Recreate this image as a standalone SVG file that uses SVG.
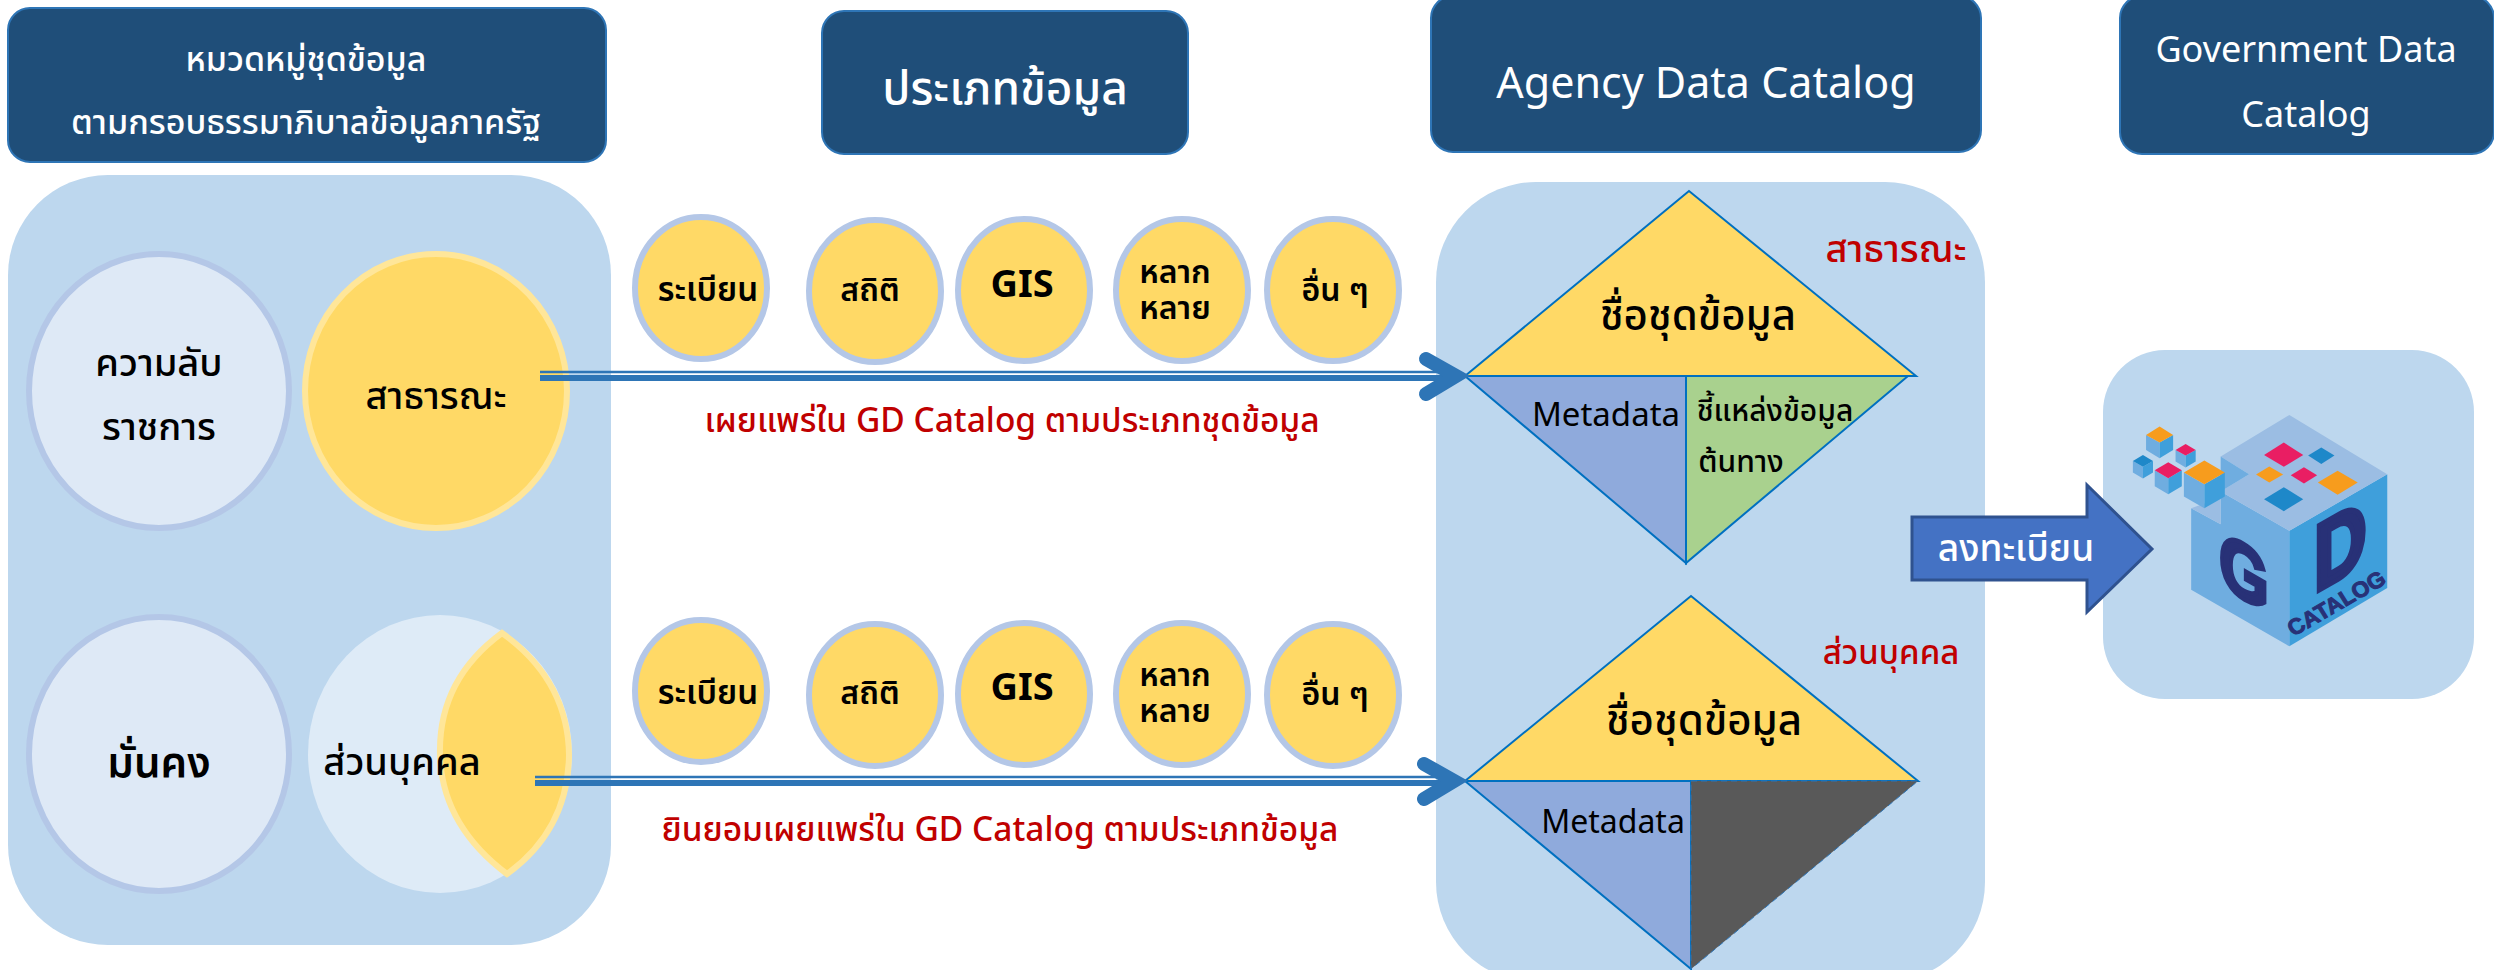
<svg xmlns="http://www.w3.org/2000/svg" width="2494" height="970" viewBox="0 0 2494 970">
<style>
text{font-family:"Noto Sans","Noto Sans Thai","DejaVu Sans","Liberation Sans",sans-serif;text-anchor:middle;fill:#000}
.w{fill:#fff}.r{fill:#c00000}
.m{font-weight:500}
.s{font-weight:600}
.h{fill:#1f4e79;stroke:#2e75b6;stroke-width:2}
.p{fill:#bdd7ee}
.c{fill:#ffd966;stroke:#b4c7e7;stroke-width:6}
.l{fill:#dee9f6;stroke:#b4c7e7;stroke-width:6}
.t{stroke:#0070c0;stroke-width:2}
.line{stroke:#2e75b6;fill:none}
.chev{fill:none;stroke:#2e75b6;stroke-width:14;stroke-linecap:round;stroke-linejoin:miter}
.lg{fill:#283177;stroke:#283177;font-family:"Liberation Sans",sans-serif;font-weight:700}
</style>
<g id="panel-left"><rect class="p" x="8" y="175" width="603" height="770" rx="100"/></g>
<g id="panel-mid"><rect class="p" x="1436" y="182" width="549" height="800" rx="100"/></g>
<g id="panel-right"><rect class="p" x="2103" y="350" width="371" height="349" rx="62"/></g>
<g id="header-1"><rect class="h" x="8" y="8" width="598" height="154" rx="22"/><text class="w m" x="306" y="71" font-size="34">หมวดหมู่ชุดข้อมูล</text><text class="w m" x="306" y="134" font-size="34">ตามกรอบธรรมาภิบาลข้อมูลภาครัฐ</text></g>
<g id="header-2"><rect class="h" x="822" y="11" width="366" height="143" rx="22"/><text class="w m" x="1005" y="104" font-size="46">ประเภทข้อมูล</text></g>
<g id="header-3"><rect class="h" x="1431" y="-4" width="550" height="156" rx="22"/><text class="w" x="1706" y="98" font-size="43">Agency Data Catalog</text></g>
<g id="header-4"><rect class="h" x="2120" y="-4" width="374" height="158" rx="22"/><text class="w" x="2306" y="62" font-size="36">Government Data</text><text class="w" x="2306" y="127" font-size="36">Catalog</text></g>
<g id="secret"><ellipse class="l" cx="159" cy="391" rx="130" ry="137"/><text class="m" x="159" y="376" font-size="38">ความลับ</text><text class="m" x="159" y="440" font-size="38">ราชการ</text></g>
<g id="public"><ellipse cx="436" cy="391" rx="131" ry="137" fill="#ffd966" stroke="#ffe699" stroke-width="6"/><text class="m" x="436" y="409" font-size="38">สาธารณะ</text></g>
<g id="security"><ellipse class="l" cx="159" cy="754" rx="130" ry="137"/><text class="s" x="159" y="777" font-size="42">มั่นคง</text></g>
<g id="personal"><ellipse cx="440" cy="754" rx="132" ry="139" fill="#deebf7"/><path d="M502 633Q438 680 440 755Q442 825 507 874Q568 830 569 755Q568 680 502 633Z" fill="#ffd966" stroke="#ffe699" stroke-width="6"/><text class="m" x="402" y="775" font-size="38">ส่วนบุคคล</text></g>
<g id="type-a1"><ellipse class="c" cx="701" cy="288" rx="66" ry="71"/><text class="s" x="708" y="301" font-size="33">ระเบียน</text></g>
<g id="type-a2"><ellipse class="c" cx="875" cy="291" rx="66" ry="71"/><text class="s" x="870" y="301" font-size="32">สถิติ</text></g>
<g id="type-a3"><ellipse class="c" cx="1024" cy="290" rx="66" ry="71"/><text x="1022" y="297" font-size="38" font-weight="700">GIS</text></g>
<g id="type-a4"><ellipse class="c" cx="1182" cy="290" rx="66" ry="71"/><text class="s" x="1175" y="283" font-size="32">หลาก</text><text class="s" x="1175" y="319" font-size="32">หลาย</text></g>
<g id="type-a5"><ellipse class="c" cx="1333" cy="290" rx="66" ry="71"/><text class="s" x="1335" y="301" font-size="32">อื่น ๆ</text></g>
<g id="type-b1"><ellipse class="c" cx="701" cy="691" rx="66" ry="71"/><text class="s" x="708" y="704" font-size="33">ระเบียน</text></g>
<g id="type-b2"><ellipse class="c" cx="875" cy="695" rx="66" ry="71"/><text class="s" x="870" y="704" font-size="32">สถิติ</text></g>
<g id="type-b3"><ellipse class="c" cx="1024" cy="694" rx="66" ry="71"/><text x="1022" y="700" font-size="38" font-weight="700">GIS</text></g>
<g id="type-b4"><ellipse class="c" cx="1182" cy="694" rx="66" ry="71"/><text class="s" x="1175" y="686" font-size="32">หลาก</text><text class="s" x="1175" y="722" font-size="32">หลาย</text></g>
<g id="type-b5"><ellipse class="c" cx="1333" cy="695" rx="66" ry="71"/><text class="s" x="1335" y="705" font-size="32">อื่น ๆ</text></g>
<g id="diamond-public">
<path class="t" d="M1465 376L1689 191L1916 376Z" fill="#ffd966"/>
<path class="t" d="M1465 376H1686V563Z" fill="#8faadc"/>
<path class="t" d="M1686 376H1908L1686 563Z" fill="#a9d18e"/>
<text class="m" x="1698" y="330" font-size="42">ชื่อชุดข้อมูล</text>
<text x="1606" y="426" font-size="33">Metadata</text>
<text class="m" x="1775" y="421" font-size="30">ชี้แหล่งข้อมูล</text>
<text class="m" x="1741" y="472" font-size="30">ต้นทาง</text>
<text class="r m" x="1896" y="262" font-size="38">สาธารณะ</text>
</g>
<g id="diamond-personal">
<path class="t" d="M1465 781L1691 596L1918 781Z" fill="#ffd966"/>
<path class="t" d="M1465 781H1691V969Z" fill="#8faadc"/>
<path d="M1691 781H1918L1691 969Z" fill="#595959" stroke="#2e75b6" stroke-dasharray="6 4"/>
<text class="m" x="1704" y="735" font-size="42">ชื่อชุดข้อมูล</text>
<text x="1613" y="833" font-size="32">Metadata</text>
<text class="r m" x="1891" y="664" font-size="33">ส่วนบุคคล</text>
</g>
<g id="connectors">
<path class="line" stroke-width="2.5" d="M540 372H1448"/><path class="line" stroke-width="6" d="M540 378H1448"/>
<path class="chev" d="M1426 359L1456 376L1426 394"/>
<path class="line" stroke-width="2.5" d="M535 777H1446"/><path class="line" stroke-width="6" d="M535 783H1446"/>
<path class="chev" d="M1424 764L1454 781L1424 799"/>
</g>
<text class="r m" x="1012" y="432" font-size="33.5">เผยแพร่ใน GD Catalog ตามประเภทชุดข้อมูล</text>
<text class="r m" x="1000" y="841" font-size="33.5">ยินยอมเผยแพร่ใน GD Catalog ตามประเภทข้อมูล</text>
<g id="register"><path d="M1912 517H2087V485L2152 549L2087 612V580H1912Z" fill="#4472c4" stroke="#2f528f" stroke-width="3"/><text class="w m" x="2016" y="561" font-size="37">ลงทะเบียน</text></g>
<g id="logo" transform="translate(1950 340) scale(.347 .333)">
<path d="M780 455L978 573V920L695 750V505L780 553Z" fill="#6fade0"/>
<path d="M978 573L1260 403V745L978 920Z" fill="#3f9fdb"/>
<path d="M978 225L1260 403L978 573L780 455L862 403L780 350Z" fill="#9bbde3"/>
<path d="M780 350L862 403L780 455Z" fill="#6fade0"/>
<path d="M695 505L735 490L780 455V553Z" fill="#9bbde3"/>
<path d="M962 308L1018 345L962 381L905 345Z" fill="#e91e63"/>
<path d="M1070 323L1108 347L1070 372L1032 347Z" fill="#1e88c9"/>
<path d="M920 380L960 404L920 428L882 404Z" fill="#f79c1d"/>
<path d="M1020 382L1058 406L1020 431L982 406Z" fill="#e91e63"/>
<path d="M1117 393L1175 428L1117 465L1060 428Z" fill="#f79c1d"/>
<path d="M962 442L1018 478L962 514L905 478Z" fill="#1e88c9"/>
<path d="M565 285L604 308V355L565 330Z" fill="#6fade0"/><path d="M604 308L643 285V330L604 355Z" fill="#3f9fdb"/><path d="M604 260L643 285L604 308L565 285Z" fill="#f79c1d"/>
<path d="M650 330L679 347V383L650 365Z" fill="#6fade0"/><path d="M679 347L708 330V365L679 383Z" fill="#3f9fdb"/><path d="M679 312L708 330L679 347L650 330Z" fill="#e91e63"/>
<path d="M527 363L556 381V416L527 398Z" fill="#6fade0"/><path d="M556 381L585 363V398L556 416Z" fill="#3f9fdb"/><path d="M556 345L585 363L556 381L527 363Z" fill="#1e88c9"/>
<path d="M590 391L629 415V463L590 439Z" fill="#6fade0"/><path d="M629 415L668 391V439L629 463Z" fill="#3f9fdb"/><path d="M629 367L668 391L629 415L590 391Z" fill="#e91e63"/>
<path d="M674 398L733 433V505L674 470Z" fill="#6fade0"/><path d="M733 433L792 398V470L733 505Z" fill="#3f9fdb"/><path d="M733 362L792 398L733 433L674 398Z" fill="#f79c1d"/>
<text class="lg" transform="translate(775 640) skewY(31) scale(.85 1.1)" x="85" y="85" stroke-width="12" font-size="215">G</text>
<text class="lg" transform="translate(1060 720) skewY(-31) scale(1 1.35)" x="65" y="25" stroke-width="12" font-size="210">D</text>
<text class="lg" transform="translate(1125 810) rotate(-31)" stroke-width="3" font-size="66">CATALOG</text>
</g>
</svg>
